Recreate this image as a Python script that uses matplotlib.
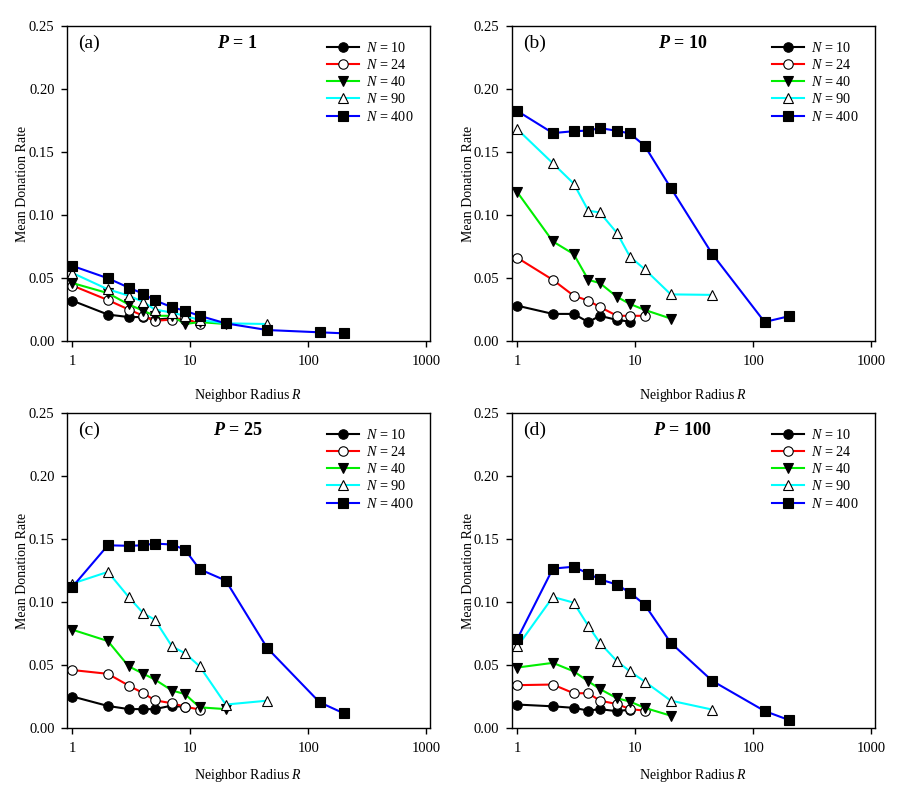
import numpy as np
import matplotlib
matplotlib.use("Agg")
import matplotlib.pyplot as plt
from matplotlib.ticker import FixedLocator, FormatStrFormatter, NullLocator

plt.rcParams['font.family'] = ['Liberation Serif', 'DejaVu Serif']
plt.rcParams['mathtext.fontset'] = 'custom'
plt.rcParams['mathtext.rm'] = 'Liberation Serif'
plt.rcParams['mathtext.it'] = 'Liberation Serif:italic'
plt.rcParams['mathtext.bf'] = 'Liberation Serif:bold'
plt.rcParams['mathtext.bfit'] = 'Liberation Serif:italic:bold'

# 邻居半径 R
radius = [1, 2, 3, 4, 5, 7, 9, 12, 20, 45, 125, 200]
sizes = [10, 24, 40, 90, 400]
npts = {10: 7, 24: 8, 40: 9, 90: 10, 400: 12}

# P = 1
p1_n10 = [0.032, 0.021, 0.019, 0.019, 0.017, 0.018, 0.017]
p1_n24 = [0.044, 0.0325, 0.025, 0.020, 0.016, 0.017, 0.018, 0.0135]
p1_n40 = [0.046, 0.038, 0.029, 0.024, 0.020, 0.020, 0.0135, 0.015, 0.0135]
p1_n90 = [0.054, 0.041, 0.036, 0.031, 0.025, 0.0225, 0.020, 0.0167, 0.014, 0.0135]
p1_n400 = [0.0596, 0.0498, 0.0424, 0.0374, 0.0323, 0.0268, 0.024, 0.020, 0.014, 0.0087, 0.0069, 0.0061]

# P = 10
p10_n10 = [0.028, 0.0215, 0.0215, 0.015, 0.020, 0.0167, 0.0154]
p10_n24 = [0.066, 0.0485, 0.036, 0.032, 0.027, 0.020, 0.020, 0.020]
p10_n40 = [0.118, 0.079, 0.069, 0.0485, 0.046, 0.035, 0.0294, 0.0247, 0.0178]
p10_n90 = [0.168, 0.141, 0.125, 0.1034, 0.102, 0.0857, 0.067, 0.057, 0.037, 0.0366]
p10_n400 = [0.1825, 0.165, 0.1665, 0.167, 0.169, 0.1668, 0.1647, 0.155, 0.1215, 0.069, 0.0151, 0.0196]

# P = 25
p25_n10 = [0.025, 0.0175, 0.015, 0.015, 0.015, 0.0178, 0.0165]
p25_n24 = [0.046, 0.043, 0.0337, 0.0276, 0.022, 0.0196, 0.017, 0.0146]
p25_n40 = [0.078, 0.069, 0.049, 0.043, 0.0385, 0.0297, 0.027, 0.0164, 0.015]
p25_n90 = [0.1146, 0.1239, 0.104, 0.091, 0.086, 0.0647, 0.0594, 0.049, 0.0186, 0.0217]
p25_n400 = [0.112, 0.145, 0.1446, 0.145, 0.1464, 0.1456, 0.1416, 0.126, 0.117, 0.0634, 0.0204, 0.0117]

# P = 100
p100_n10 = [0.0186, 0.0172, 0.016, 0.0138, 0.015, 0.0133, 0.0146]
p100_n24 = [0.034, 0.0345, 0.0276, 0.0276, 0.0217, 0.019, 0.015, 0.0138]
p100_n40 = [0.048, 0.0517, 0.045, 0.037, 0.031, 0.0236, 0.021, 0.016, 0.0098]
p100_n90 = [0.0647, 0.104, 0.0995, 0.081, 0.0676, 0.053, 0.045, 0.0369, 0.0217, 0.0146]
p100_n400 = [0.0708, 0.1265, 0.128, 0.1225, 0.118, 0.1138, 0.1074, 0.098, 0.0676, 0.0374, 0.0135, 0.0064]

panels = [
    ("(a)", "1", [p1_n10, p1_n24, p1_n40, p1_n90, p1_n400]),
    ("(b)", "10", [p10_n10, p10_n24, p10_n40, p10_n90, p10_n400]),
    ("(c)", "25", [p25_n10, p25_n24, p25_n40, p25_n90, p25_n400]),
    ("(d)", "100", [p100_n10, p100_n24, p100_n40, p100_n90, p100_n400]),
]

line_colors = ['black', 'red', '#00ee00', 'cyan', 'blue']
markers = ['o', 'o', 'v', '^', 's']
face_colors = ['black', 'white', 'black', 'white', 'black']

W, H = 902, 785
# 左上角像素位置, 以及 xlabel 距离底轴的像素
boxes = [(67, 26, 55), (512, 26, 55), (67, 413, 47), (512, 413, 47)]
aw, ah = 363, 315

fig = plt.figure(figsize=(W / 100, H / 100), dpi=100)

for (lab, p, series), (x0, y0, xl) in zip(panels, boxes):
    ax = fig.add_axes([x0 / W, 1 - (y0 + ah) / H, aw / W, ah / H])
    for k, n in enumerate(sizes):
        xs = radius[:npts[n]]
        ax.plot(xs, series[k], color=line_colors[k], lw=1.5, marker=markers[k],
                ms=6.8, mfc=face_colors[k], mec='black', mew=0.8,
                label=f"$N$ = {n}")
    ax.set_xscale('log')
    ax.set_xlim(0.9, 1080)
    ax.set_ylim(0, 0.25)
    ax.xaxis.set_major_locator(FixedLocator([1, 10, 100, 1000]))
    ax.xaxis.set_minor_locator(NullLocator())
    ax.set_xticklabels(['1', '10', '100', '1000'])
    ax.set_yticks(np.arange(0, 0.26, 0.05))
    ax.yaxis.set_major_formatter(FormatStrFormatter('%.2f'))
    ax.tick_params(direction='out', length=4, width=1, labelsize=10.5)
    ax.tick_params(axis='x', pad=6)
    ax.tick_params(axis='y', pad=5)
    ax.tick_params(top=False, right=False)
    for s in ax.spines.values():
        s.set_linewidth(1.0)
    ax.set_xlabel("Neighbor Radius $R$", fontsize=10)
    ax.xaxis.set_label_coords(0.5, -xl / ah, transform=ax.transAxes)
    ax.xaxis.label.set_va('center')
    ax.set_ylabel("Mean Donation Rate", fontsize=10)
    ax.yaxis.set_label_coords(-44 / aw, 0.5, transform=ax.transAxes)
    ax.yaxis.label.set_va('center')
    ax.text(0.03, 0.945, lab, transform=ax.transAxes, fontsize=14, va='center', ha='left')
    ax.text(0.47, 0.945, r"$\mathbfit{P}$ = " + p, transform=ax.transAxes,
            fontsize=13, fontweight='bold', va='center', ha='center')
    ax.legend(loc='upper right', bbox_to_anchor=(1 - 16 / aw, 1 - 15 / ah),
              frameon=False, fontsize=10.3, handlelength=2.25,
              labelspacing=0.22, borderaxespad=0, handletextpad=0.5,
              borderpad=0)

fig.savefig("out.png", dpi=100)
